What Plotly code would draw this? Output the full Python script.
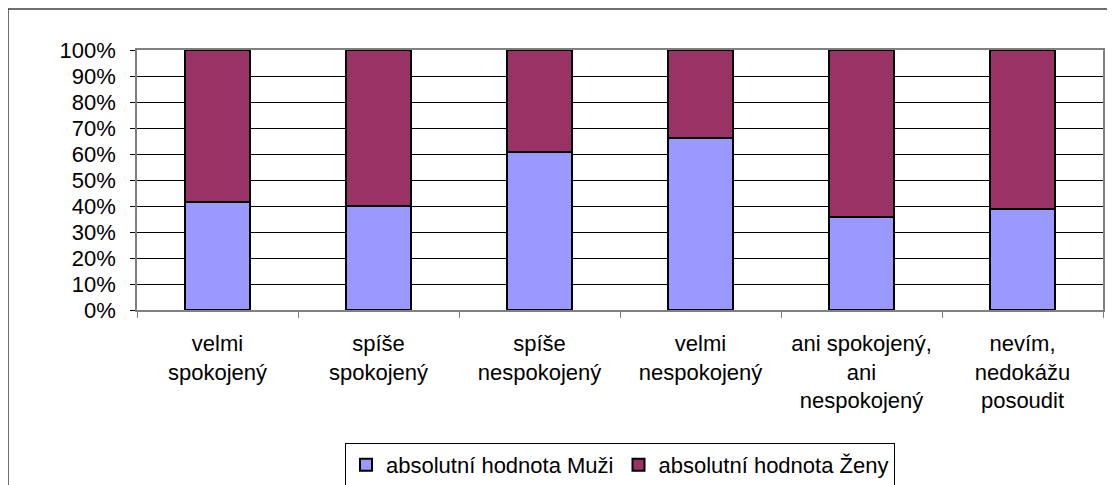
import plotly.graph_objects as go

categories = ["velmi<br>spokojený", "spíše<br>spokojený", "spíše<br>nespokojený",
              "velmi<br>nespokojený", "ani spokojený,<br>ani<br>nespokojený",
              "nevím,<br>nedokážu<br>posoudit"]
muzi = [0.414, 0.40, 0.608, 0.66, 0.356, 0.387]
zeny = [1 - v for v in muzi]
series_names = ["absolutní hodnota Muži", "absolutní hodnota Ženy"]
y_ticks = [i / 10 for i in range(11)]
y_ticktext = [f"{i*10}%" for i in range(11)]

# page has an 8px body margin; figure coordinates = page coordinates - 8
OFF = 8
W, H = 1115 - OFF, 485 - OFF
L, R, T, B = 137 - OFF, 1103 - OFF, 50 - OFF, 310 - OFF
pw, ph = R - L, B - T

def px(x):  # page x -> paper
    return (x - OFF - L) / pw

def py(y):  # page y -> paper
    return (B - (y - OFF)) / ph

FONT = "Liberation Sans, Arial, sans-serif"
FS = 22

fig = go.Figure()
fig.add_trace(go.Bar(x=categories, y=muzi, name=series_names[0], width=0.4,
                     marker=dict(color="#9999FF", line=dict(color="black", width=2))))
fig.add_trace(go.Bar(x=categories, y=zeny, name=series_names[1], width=0.4,
                     marker=dict(color="#993366", line=dict(color="black", width=2))))

fig.update_layout(
    width=W, height=H, barmode="stack",
    margin=dict(l=L, r=W - R, t=T, b=H - B, autoexpand=False),
    paper_bgcolor="white", plot_bgcolor="white",
    font=dict(family=FONT, size=FS, color="black"),
    showlegend=True,
    legend=dict(orientation="h", x=0.5, xanchor="center", y=py(443), yanchor="top",
                bordercolor="black", borderwidth=1, font=dict(size=FS),
                traceorder="normal", itemclick=False, itemwidth=30,
                tracegroupgap=0),
    xaxis=dict(type="category", tickson="boundaries", ticks="outside", ticklen=6,
               tickcolor="#808080", showgrid=False, showline=True, linecolor="#808080",
               linewidth=1.5, mirror=True, tickfont=dict(size=FS), ticklabelstandoff=13,
               automargin=False),
    yaxis=dict(range=[0, 1], tickvals=y_ticks, ticktext=y_ticktext, ticks="outside",
               ticklen=5, tickcolor="black", showgrid=True, gridcolor="black", gridwidth=1,
               showline=True, linecolor="#808080", linewidth=1.5, mirror=True,
               zeroline=False, tickfont=dict(size=FS), ticklabelstandoff=10,
               automargin=False),
    shapes=[dict(type="rect", xref="paper", yref="paper",
                 x0=px(8), x1=px(1125), y0=py(9), y1=py(500),
                 line=dict(color="#404040", width=1.5), layer="below")],
)

fig.write_html("out.html")
